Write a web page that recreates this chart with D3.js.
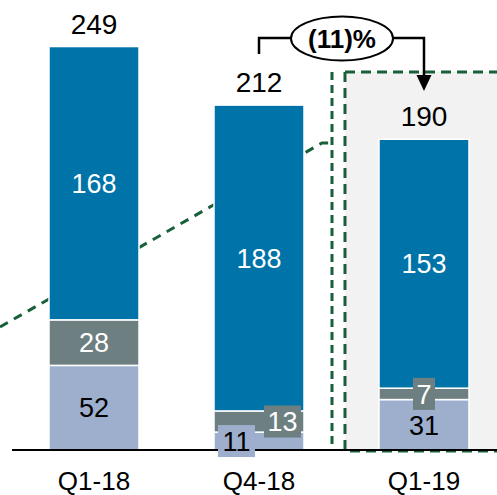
<!DOCTYPE html>
<html>
<head>
<meta charset="utf-8">
<script src="https://cdn.jsdelivr.net/npm/d3@7"></script>
<style>
  body { margin: 0; background: #fff; }
  svg { display: block; }
  text { font-family: "Liberation Sans", Arial, Helvetica, sans-serif; }
</style>
</head>
<body>
<svg id="chart" width="497" height="495"></svg>
<script>
// Quarterly totals split into three stacked components
const quarters   = ["Q1-18", "Q4-18", "Q1-19"];
const bottomSeg  = [52, 11, 31];
const middleSeg  = [28, 13, 7];
const topSeg     = [168, 188, 153];
const totals     = [249, 212, 190];
const changeText = "(11)%";

const keys = ["bottom", "middle", "top"];
const colors = { bottom: "#9DAFCD", middle: "#6D7F80", top: "#0073A9" };
const labelColors = { bottom: "#000", middle: "#fff", top: "#fff" };

const rows = quarters.map((q, i) => ({
  quarter: q, bottom: bottomSeg[i], middle: middleSeg[i], top: topSeg[i], total: totals[i]
}));

const W = 497, H = 495;
const baseY = 450;
const svg = d3.select("#chart");

const x = d3.scaleBand()
  .domain(quarters)
  .range([11.5, 506.5])
  .paddingInner(0.4545)
  .paddingOuter(0.2273);

const y = d3.scaleLinear().domain([0, 276.6]).range([baseY, 0]);

const series = d3.stack().keys(keys)(rows);
const green = "#17603A";

// Highlighted latest-quarter panel
const panelX = x("Q1-19") - 34;
const panelTop = 72;
svg.append("rect")
  .attr("x", panelX).attr("y", panelTop)
  .attr("width", W - panelX + 10).attr("height", baseY - panelTop + 1)
  .attr("fill", "#F2F2F2")
  .attr("stroke", green).attr("stroke-width", 3)
  .attr("stroke-dasharray", "10,6");

// Divider before the highlighted panel
const divX = panelX - 13;
svg.append("line")
  .attr("x1", divX).attr("x2", divX)
  .attr("y1", panelTop).attr("y2", baseY)
  .attr("stroke", green).attr("stroke-width", 3)
  .attr("stroke-dasharray", "8,5");

// Dashed trend connector running behind the bars
svg.append("path")
  .attr("d", d3.line()([[0, 327], [divX - 10, 143], [divX, 143]]))
  .attr("fill", "none")
  .attr("stroke", green).attr("stroke-width", 3)
  .attr("stroke-dasharray", "9,7");

// Stacked bars
const layer = svg.append("g").selectAll("g")
  .data(series).join("g")
  .attr("fill", d => colors[d.key]);

layer.selectAll("rect")
  .data(d => d.map(v => Object.assign({}, v, { key: d.key })))
  .join("rect")
  .attr("x", d => x(d.data.quarter))
  .attr("y", d => y(d[1]))
  .attr("width", x.bandwidth())
  .attr("height", d => y(d[0]) - y(d[1]))
  .attr("stroke", "#fff")
  .attr("stroke-width", 1.5);

// Baseline
svg.append("line")
  .attr("x1", 12).attr("x2", W)
  .attr("y1", baseY).attr("y2", baseY)
  .attr("stroke", "#000").attr("stroke-width", 2);

// Segment labels; thin segments get a small tag box, shifted sideways when needed
const tagShift = {
  "Q4-18|bottom": -22.5,
  "Q4-18|middle": 23.5,
  "Q1-19|middle": 0
};
const segFont = 27;
series.forEach(s => {
  s.forEach(v => {
    const q = v.data.quarter;
    const val = v.data[s.key];
    const cx0 = x(q) + x.bandwidth() / 2;
    let cy = (y(v[0]) + y(v[1])) / 2;
    const tagKey = q + "|" + s.key;
    const g = svg.append("g");
    let cx = cx0;
    if (tagKey in tagShift) {
      cx = cx0 + tagShift[tagKey];
      const tw = String(val).length * 0.556 * segFont + 7;
      g.append("rect")
        .attr("x", cx - tw / 2).attr("y", cy - 16)
        .attr("width", tw).attr("height", 32)
        .attr("fill", colors[s.key]);
    }
    g.append("text")
      .attr("x", cx).attr("y", cy)
      .attr("dy", "0.36em")
      .attr("text-anchor", "middle")
      .attr("font-size", segFont)
      .attr("fill", labelColors[s.key])
      .text(val);
  });
});

// Totals above bars
svg.append("g").selectAll("text")
  .data(rows).join("text")
  .attr("x", d => x(d.quarter) + x.bandwidth() / 2)
  .attr("y", d => y(d3.sum(keys, k => d[k])) - 13)
  .attr("text-anchor", "middle")
  .attr("font-size", 28)
  .attr("fill", "#000")
  .text(d => d.total);

// Category axis labels
svg.append("g").selectAll("text")
  .data(quarters).join("text")
  .attr("x", d => x(d) + x.bandwidth() / 2)
  .attr("y", 490)
  .attr("text-anchor", "middle")
  .attr("font-size", 26)
  .attr("fill", "#000")
  .text(d => d);

// Change bracket from Q4-18 to Q1-19
const fromX = x("Q4-18") + x.bandwidth() / 2;
const toX = x("Q1-19") + x.bandwidth() / 2;
const brY = 38;
const ell = { cx: 342, cy: 38.5, rx: 51, ry: 22 };
svg.append("path")
  .attr("d", d3.line()([[fromX, 54], [fromX, brY], [ell.cx - ell.rx, brY]]))
  .attr("fill", "none").attr("stroke", "#000").attr("stroke-width", 2.5);
svg.append("path")
  .attr("d", d3.line()([[ell.cx + ell.rx, brY], [toX, brY], [toX, 78]]))
  .attr("fill", "none").attr("stroke", "#000").attr("stroke-width", 2.5);
svg.append("path")
  .attr("d", d3.line()([[toX - 7.5, 75], [toX + 7.5, 75], [toX, 91]]) + "Z")
  .attr("fill", "#000");
svg.append("ellipse")
  .attr("cx", ell.cx).attr("cy", ell.cy)
  .attr("rx", ell.rx).attr("ry", ell.ry)
  .attr("fill", "#fff").attr("stroke", "#000").attr("stroke-width", 2);
svg.append("text")
  .attr("x", ell.cx).attr("y", ell.cy)
  .attr("dy", "0.36em")
  .attr("text-anchor", "middle")
  .attr("font-size", 26)
  .attr("font-weight", "bold")
  .attr("fill", "#000")
  .text(changeText);
</script>
</body>
</html>
